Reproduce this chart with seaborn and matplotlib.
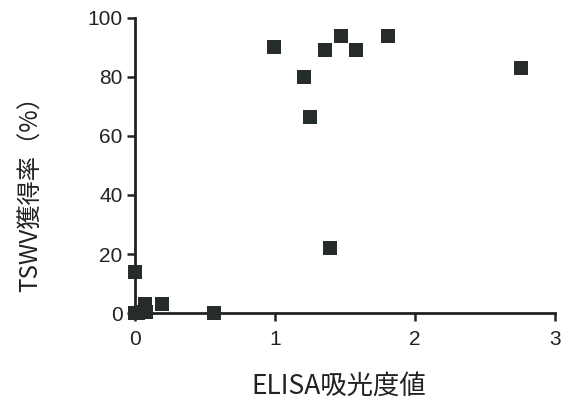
import matplotlib
matplotlib.use("Agg")
import matplotlib.pyplot as plt
import seaborn as sns
import pandas as pd

elisa = [0.99, 1.21, 1.25, 1.36, 1.47, 1.58, 1.81, 2.76, 1.39,
         0.0, 0.0, 0.02, 0.05, 0.07, 0.08, 0.19, 0.56]
tswv = [90, 80, 66.5, 89, 94, 89, 94, 83, 22,
        14, 0, 0, 0.5, 3, 0.5, 3, 0]
xticks = [0, 1, 2, 3]
yticks = [0, 20, 40, 60, 80, 100]

df = pd.DataFrame({"x": elisa, "y": tswv})

sns.set_theme(style="ticks")
plt.rcParams["font.family"] = ["Liberation Sans", "Noto Sans CJK JP", "DejaVu Sans"]

fig = plt.figure(figsize=(5.68, 3.99), dpi=100)
ax = fig.add_axes([0.238, 0.2155, 0.739, 0.7395])
sns.scatterplot(data=df, x="x", y="y", ax=ax, marker="s", s=95,
                color="#262b2b", edgecolor="#262b2b", linewidth=0,
                clip_on=False, zorder=3)
ax.set_xlim(0, 3)
ax.set_ylim(0, 100)
ax.set_xticks(xticks)
ax.set_yticks(yticks)
ax.set_xticklabels([str(t) for t in xticks])
ax.set_yticklabels([str(t) for t in yticks])
for s in ["top", "right"]:
    ax.spines[s].set_visible(False)
for s in ["left", "bottom"]:
    ax.spines[s].set_linewidth(2)
    ax.spines[s].set_color("#222222")
ax.tick_params(axis="both", direction="out", length=6, width=1.8,
               color="#222222", labelsize=15, labelcolor="#222222")
ax.tick_params(axis="x", pad=6)
ax.tick_params(axis="y", pad=3)
cjk = ["Noto Sans CJK JP", "DejaVu Sans"]
ax.set_xlabel("ELISA吸光度値", fontsize=19, color="#222222", family=cjk)
ax.set_ylabel("TSWV獲得率（%）", fontsize=17.5, color="#222222", family=cjk)
ax.xaxis.label.set_va("center")
ax.yaxis.label.set_va("center")
ax.xaxis.set_label_coords(0.4845, -0.247)
ax.yaxis.set_label_coords(-0.248, 0.424)
fig.savefig("out.png", dpi=100)
